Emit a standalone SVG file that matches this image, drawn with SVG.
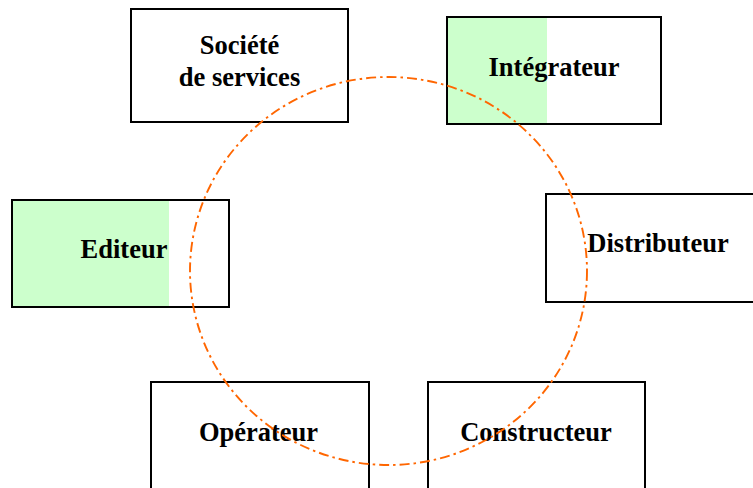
<svg xmlns="http://www.w3.org/2000/svg" width="753" height="488" viewBox="0 0 753 488">
<style>
.box{fill:none;stroke:#000;stroke-width:2}
.green{fill:#ccffcc}
.lbl{font-family:"Liberation Serif","Times New Roman",serif;font-weight:bold;font-size:26.5px;fill:#000;text-anchor:middle}
.ring{fill:none;stroke:#ff6600;stroke-width:1.9;stroke-dasharray:10 4 2.5 4}
</style>
<rect width="753" height="488" fill="#fff"/>
<g id="societe">
<rect class="box" x="131" y="9" width="217" height="113"/>
<text class="lbl" x="239.5" y="54">Société</text>
<text class="lbl" x="239.5" y="86">de services</text>
</g>
<g id="integrateur">
<rect class="green" x="448" y="18" width="99" height="106"/>
<rect class="box" x="447" y="17" width="214" height="107"/>
<text class="lbl" x="554" y="76">Intégrateur</text>
</g>
<g id="editeur">
<rect class="green" x="13" y="201" width="156" height="106"/>
<rect class="box" x="12" y="200" width="217" height="107"/>
<text class="lbl" x="124" y="258">Editeur</text>
</g>
<g id="distributeur">
<rect class="box" x="546" y="194" width="220" height="108"/>
<text class="lbl" x="658" y="252">Distributeur</text>
</g>
<g id="operateur">
<rect class="box" x="151" y="382" width="218" height="120"/>
<text class="lbl" x="258.5" y="441">Opérateur</text>
</g>
<g id="constructeur">
<rect class="box" x="428" y="382" width="217" height="120"/>
<text class="lbl" x="536" y="441">Constructeur</text>
</g>
<g id="connectors">
<ellipse class="ring" cx="388.5" cy="271" rx="198.5" ry="194"/>
</g>
</svg>
